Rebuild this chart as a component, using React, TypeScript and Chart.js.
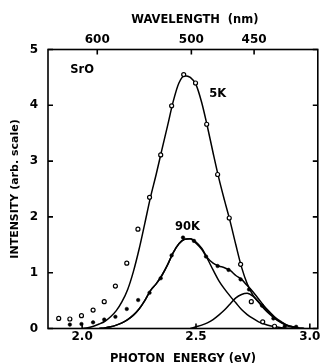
import React, { useEffect, useRef } from "react";
import { Chart, registerables } from "chart.js";

Chart.register(...registerables);

// ---- Data ----
// Energy grid (eV) on which the fitted curves were read
const CURVE_E = [
  1.975, 2.0, 2.025, 2.05, 2.075, 2.1, 2.125, 2.15, 2.175, 2.2,
  2.225, 2.25, 2.275, 2.3, 2.325, 2.35, 2.375, 2.4, 2.425, 2.45,
  2.475, 2.5, 2.525, 2.55, 2.575, 2.6, 2.625, 2.65, 2.675, 2.7,
  2.725, 2.75, 2.775, 2.8, 2.825, 2.85, 2.875, 2.9, 2.925, 2.95, 2.975,
];

// 5K fitted curve
const FIT_5K = [
  null, 0.0, 0.015, 0.04, 0.08, 0.13, 0.21, 0.32, 0.48, 0.7,
  1.02, 1.42, 1.88, 2.35, 2.76, 3.2, 3.63, 4.07, 4.4, 4.53,
  4.5, 4.37, 4.05, 3.62, 3.15, 2.7, 2.3, 1.92, 1.5, 1.1,
  0.8, 0.6, 0.47, 0.35, 0.25, 0.17, 0.11, 0.06, 0.03, 0.01, 0.0,
];

// 90K fitted total
const FIT_90K_TOTAL = [
  null, null, null, null, 0.0, 0.01, 0.03, 0.06, 0.1, 0.16,
  0.24, 0.35, 0.5, 0.68, 0.8, 0.95, 1.14, 1.36, 1.52, 1.6,
  1.61, 1.55, 1.44, 1.27, 1.17, 1.12, 1.09, 1.04, 0.95, 0.88,
  0.77, 0.66, 0.53, 0.4, 0.29, 0.19, 0.12, 0.06, 0.03, 0.01, 0.0,
];

// 90K main band
const FIT_90K_MAIN = [
  null, null, null, null, 0.0, 0.01, 0.03, 0.06, 0.1, 0.16,
  0.24, 0.35, 0.5, 0.68, 0.8, 0.95, 1.14, 1.36, 1.52, 1.6,
  1.61, 1.53, 1.42, 1.25, 1.05, 0.86, 0.71, 0.58, 0.46, 0.34,
  0.25, 0.18, 0.12, 0.08, 0.05, 0.03, 0.015, 0.005, 0.0, null, null,
];

// 90K high-energy band
const FIT_90K_HIGH = [
  null, null, null, null, null, null, null, null, null, null,
  null, null, null, null, null, null, null, null, null, null,
  0.0, 0.03, 0.06, 0.1, 0.16, 0.24, 0.33, 0.44, 0.55, 0.61,
  0.63, 0.58, 0.48, 0.37, 0.27, 0.17, 0.1, 0.05, 0.02, 0.0, null,
];

// Measured points, 5K (open circles)
const DATA_5K_E = [
  1.897, 1.946, 1.997, 2.048, 2.097, 2.146, 2.196, 2.245, 2.296, 2.345,
  2.393, 2.446, 2.498, 2.547, 2.595, 2.646, 2.696, 2.743, 2.793, 2.845,
];
const DATA_5K_I = [
  0.18, 0.17, 0.23, 0.33, 0.48, 0.76, 1.17, 1.78, 2.35, 3.11,
  3.99, 4.55, 4.4, 3.66, 2.76, 1.98, 1.15, 0.48, 0.12, 0.04,
];

// Measured points, 90K (filled dots)
const DATA_90K_E = [
  1.946, 1.997, 2.048, 2.097, 2.146, 2.196, 2.246, 2.296, 2.345, 2.393,
  2.443, 2.491, 2.544, 2.595, 2.643, 2.696, 2.733, 2.79, 2.84, 2.89, 2.94,
];
const DATA_90K_I = [
  0.07, 0.08, 0.11, 0.16, 0.21, 0.35, 0.51, 0.64, 0.9, 1.31,
  1.63, 1.57, 1.29, 1.12, 1.05, 0.88, 0.7, 0.41, 0.18, 0.04, 0.03,
];

// Axis ticks
const ENERGY_TICKS = [2.0, 2.5, 3.0];
const WAVELENGTH_TICKS = [600, 500, 450];
const HC_EV_NM = 1239.84;

// In-plot labels
const LABEL_TEXT = ["SrO", "5K", "90K"];
const LABEL_E = [2.0, 2.595, 2.463];
const LABEL_I = [4.64, 4.21, 1.81];

const FONT = '"DejaVu Sans", "Liberation Sans", sans-serif';

const framePlugin = {
  id: "frameAndTicks",
  afterDatasetsDraw(chart: any) {
    const { ctx, chartArea: a, scales } = chart;
    const TL = 5;
    ctx.save();
    ctx.strokeStyle = "#000";
    ctx.lineWidth = 1.6;
    ctx.strokeRect(a.left, a.top, a.right - a.left, a.bottom - a.top);
    ctx.beginPath();
    scales.y.ticks.forEach((t: any) => {
      const py = scales.y.getPixelForValue(t.value);
      ctx.moveTo(a.left, py);
      ctx.lineTo(a.left + TL, py);
      ctx.moveTo(a.right, py);
      ctx.lineTo(a.right - TL, py);
    });
    scales.x.ticks.forEach((t: any) => {
      const px = scales.x.getPixelForValue(t.value);
      ctx.moveTo(px, a.bottom);
      ctx.lineTo(px, a.bottom - TL);
    });
    scales.x2.ticks.forEach((t: any) => {
      const px = scales.x2.getPixelForValue(t.value);
      ctx.moveTo(px, a.top);
      ctx.lineTo(px, a.top + TL);
    });
    ctx.stroke();
    ctx.fillStyle = "#000";
    ctx.font = `bold 11.5px ${FONT}`;
    ctx.textAlign = "center";
    ctx.textBaseline = "middle";
    LABEL_TEXT.forEach((txt, i) => {
      ctx.fillText(
        txt,
        scales.x.getPixelForValue(LABEL_E[i]),
        scales.y.getPixelForValue(LABEL_I[i])
      );
    });
    ctx.restore();
  },
};

function curve(values: (number | null)[]) {
  return CURVE_E.map((e, i) => ({ x: e, y: values[i] }));
}

export default function App() {
  const ref = useRef<HTMLCanvasElement | null>(null);

  useEffect(() => {
    if (!ref.current) return;
    const lineDs = (label: string, values: (number | null)[]) => ({
      type: "line" as const,
      label,
      data: curve(values),
      borderColor: "#000",
      borderWidth: 1.5,
      pointRadius: 0,
      fill: false,
      cubicInterpolationMode: "monotone" as const,
      spanGaps: false,
    });
    const tickFont = { family: FONT, size: 12, weight: "bold" as const };
    const titleFont = { family: FONT, size: 11.5, weight: "bold" as const };
    const chart = new Chart(ref.current, {
      type: "scatter",
      data: {
        datasets: [
          {
            type: "scatter",
            label: "90K data",
            data: DATA_90K_E.map((e, i) => ({ x: e, y: DATA_90K_I[i] })),
            pointRadius: 1.8,
            pointBackgroundColor: "#000",
            pointBorderColor: "#000",
            pointBorderWidth: 0.5,
            showLine: false,
          },
          {
            type: "scatter",
            label: "5K data",
            data: DATA_5K_E.map((e, i) => ({ x: e, y: DATA_5K_I[i] })),
            pointRadius: 2.0,
            pointBackgroundColor: "#fff",
            pointBorderColor: "#000",
            pointBorderWidth: 1.2,
            showLine: false,
          },
          lineDs("5K fit", FIT_5K),
          lineDs("90K total", FIT_90K_TOTAL),
          lineDs("90K main", FIT_90K_MAIN),
          lineDs("90K high", FIT_90K_HIGH),
        ] as any,
      },
      options: {
        responsive: false,
        animation: false,
        devicePixelRatio: 1,
        layout: { padding: { left: 0, right: 2, top: 0, bottom: 0 } },
        plugins: { legend: { display: false }, tooltip: { enabled: false } },
        scales: {
          x: {
            type: "linear",
            position: "bottom",
            min: 1.85,
            max: 3.035,
            afterBuildTicks: (s: any) => {
              s.ticks = ENERGY_TICKS.map((v) => ({ value: v }));
            },
            ticks: {
              callback: (v: any) => Number(v).toFixed(1),
              font: tickFont,
              color: "#000",
              padding: 1.5,
              maxRotation: 0,
              autoSkip: false,
            },
            grid: { display: false, drawTicks: false },
            border: { display: false },
            title: {
              display: true,
              text: "PHOTON  ENERGY (eV)",
              font: titleFont,
              color: "#000",
              padding: { top: 0, bottom: -2.5 },
            },
            afterFit: (s: any) => {
              s.height = 34.5;
            },
          },
          x2: {
            type: "linear",
            position: "top",
            min: 1.85,
            max: 3.035,
            afterBuildTicks: (s: any) => {
              s.ticks = WAVELENGTH_TICKS.map((w) => ({ value: HC_EV_NM / w }));
            },
            ticks: {
              callback: (_v: any, i: number) => String(WAVELENGTH_TICKS[i]),
              font: tickFont,
              color: "#000",
              padding: 2.3,
              maxRotation: 0,
              autoSkip: false,
            },
            grid: { display: false, drawTicks: false },
            border: { display: false },
            title: {
              display: true,
              text: "      WAVELENGTH  (nm)",
              font: titleFont,
              color: "#000",
              padding: { top: 12.8, bottom: 0 },
            },
            afterFit: (s: any) => {
              s.height = 49.5;
            },
          },
          y: {
            type: "linear",
            position: "left",
            min: 0,
            max: 5,
            ticks: {
              stepSize: 1,
              font: tickFont,
              color: "#000",
              padding: 10,
            },
            grid: { display: false, drawTicks: false },
            border: { display: false },
            title: {
              display: true,
              text: "INTENSITY (arb. scale)",
              font: { family: FONT, size: 11, weight: "bold" },
              color: "#000",
              padding: { top: 8.4, bottom: 0 },
            },
            afterFit: (s: any) => {
              s.width = 48;
            },
          },
        },
      } as any,
      plugins: [framePlugin],
    });
    return () => chart.destroy();
  }, []);

  return (
    <div style={{ position: "fixed", left: 0, top: 0, width: 323, height: 363, background: "#fff" }}>
      <canvas ref={ref} width={323} height={363} style={{ display: "block" }} />
    </div>
  );
}
